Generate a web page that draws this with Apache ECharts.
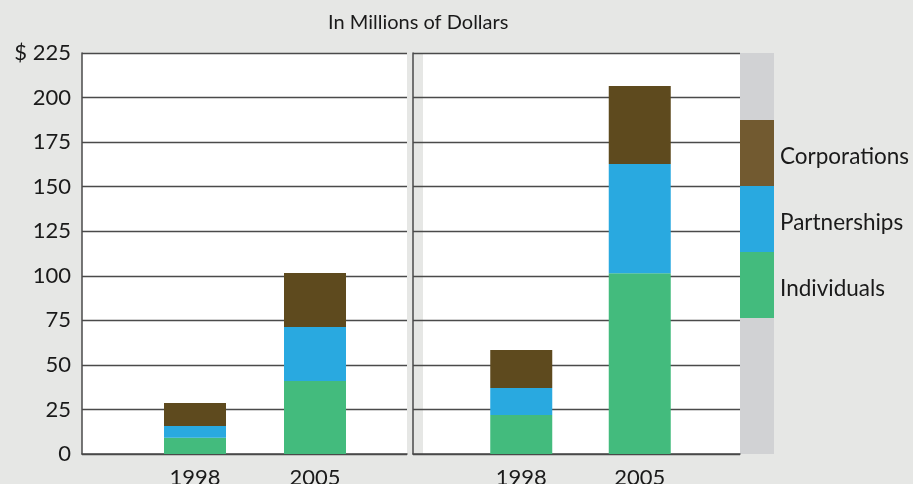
<!DOCTYPE html>
<html>
<head>
<meta charset="utf-8">
<script src="https://cdn.jsdelivr.net/npm/echarts@6/dist/echarts.min.js"></script>
<style>
html,body{margin:0;padding:0;background:#e6e7e5;}
#chart{width:913px;height:484px;}
</style>
</head>
<body>
<div id="chart"></div>
<script>
// ---- Data ----
var years = ['1998', '2005'];
var seriesNames = ['Individuals', 'Partnerships', 'Corporations'];
var legendOrder = ['Corporations', 'Partnerships', 'Individuals'];
var yTicks = [0, 25, 50, 75, 100, 125, 150, 175, 200, 225];
// Left panel (millions of dollars)
var leftIndividuals = [9.1, 41.0];
var leftPartnerships = [6.6, 30.3];
var leftCorporations = [12.9, 30.3];
// Right panel (millions of dollars)
var rightIndividuals = [21.9, 101.4];
var rightPartnerships = [15.1, 61.3];
var rightCorporations = [21.4, 43.8];

// ---- Styles ----
var colors = { Individuals: '#43bb7d', Partnerships: '#29a9e0', Corporations: '#5e4a1e' };
var legendColors = { Individuals: '#43bb7d', Partnerships: '#29a9e0', Corporations: '#725a30' };
var FONT = 'Lato';
var lineColor = '#4a4a4a';
var yMin = yTicks[0], yMax = yTicks[yTicks.length - 1], yStep = yTicks[1] - yTicks[0];
var TOP = 53, H = 401;

var chart = echarts.init(document.getElementById('chart'));

function panelY(idx, showLabels) {
  return {
    type: 'value', gridIndex: idx, min: yMin, max: yMax, interval: yStep,
    axisLine: { show: true, lineStyle: { color: lineColor, width: 1.5 } },
    axisTick: { show: false },
    splitLine: { show: true, lineStyle: { color: lineColor, width: 1.3 } },
    axisLabel: {
      show: showLabels, margin: 11, fontFamily: FONT, fontSize: 22, color: '#1a1a1a',
      formatter: function (v) { return v === yMax ? '$ ' + v : String(v); }
    }
  };
}
function panelX(idx) {
  return {
    type: 'category', gridIndex: idx, data: years,
    axisLine: { show: true, lineStyle: { color: lineColor, width: 1.5 } },
    axisTick: { show: false }, axisLabel: { show: false }, splitLine: { show: false }
  };
}
function barX(idx) {
  return {
    type: 'category', gridIndex: idx, data: years,
    axisLine: { show: false }, axisTick: { show: false },
    axisLabel: { show: true, margin: 13, fontFamily: FONT, fontSize: 22, color: '#1a1a1a' }
  };
}
function barY(idx) {
  return { type: 'value', gridIndex: idx, min: yMin, max: yMax, show: false, splitLine: { show: false } };
}
function makeSeries(axisIdx, stack, data) {
  return seriesNames.map(function (n, i) {
    return {
      name: n, type: 'bar', stack: stack, xAxisIndex: axisIdx, yAxisIndex: axisIdx,
      barWidth: 62, data: data[i], itemStyle: { color: colors[n] }, silent: true
    };
  });
}
function grid(left, width) {
  return { left: left, top: TOP, width: width, height: H, containLabel: false, outerBoundsMode: 'none' };
}

var option = {
  backgroundColor: '#e6e7e5',
  animation: false,
  title: {
    text: 'In Millions of Dollars', left: 323, top: 8,
    textStyle: { fontFamily: FONT, fontSize: 20, fontWeight: 'normal', color: '#1a1a1a' }
  },
  graphic: [
    { type: 'rect', z: -10, shape: { x: 82, y: TOP, width: 325, height: H }, style: { fill: '#ffffff' } },
    { type: 'rect', z: -10, shape: { x: 423, y: TOP, width: 317, height: H }, style: { fill: '#ffffff' } },
    { type: 'rect', z: -10, shape: { x: 740, y: TOP, width: 34, height: H }, style: { fill: '#d1d2d4' } }
  ],
  legend: {
    orient: 'vertical', left: 740, top: 120, padding: 0,
    itemWidth: 34, itemHeight: 66, itemGap: 0, icon: 'rect', selectedMode: false,
    formatter: function (name) { return '{t|' + name + '}'; },
    textStyle: {
      fontFamily: FONT, fontSize: 22.5, color: '#1a1a1a',
      rich: { t: { fontFamily: FONT, fontSize: 22.5, color: '#1a1a1a', padding: [7, 0, 0, 1] } }
    },
    data: legendOrder.map(function (n) { return { name: n, itemStyle: { color: legendColors[n] } }; })
  },
  grid: [grid(82, 325), grid(413, 327), grid(135, 240), grid(462, 237)],
  xAxis: [panelX(0), panelX(1), barX(2), barX(3)],
  yAxis: [panelY(0, true), panelY(1, false), barY(2), barY(3)],
  series: [].concat(
    makeSeries(2, 'left', [leftIndividuals, leftPartnerships, leftCorporations]),
    makeSeries(3, 'right', [rightIndividuals, rightPartnerships, rightCorporations])
  )
};
// panel grids carry no bars; empty placeholder series so their axes render
option.series.push({ type: 'bar', xAxisIndex: 0, yAxisIndex: 0, data: [], silent: true });
option.series.push({ type: 'bar', xAxisIndex: 1, yAxisIndex: 1, data: [], silent: true });
chart.setOption(option);
</script>
</body>
</html>
